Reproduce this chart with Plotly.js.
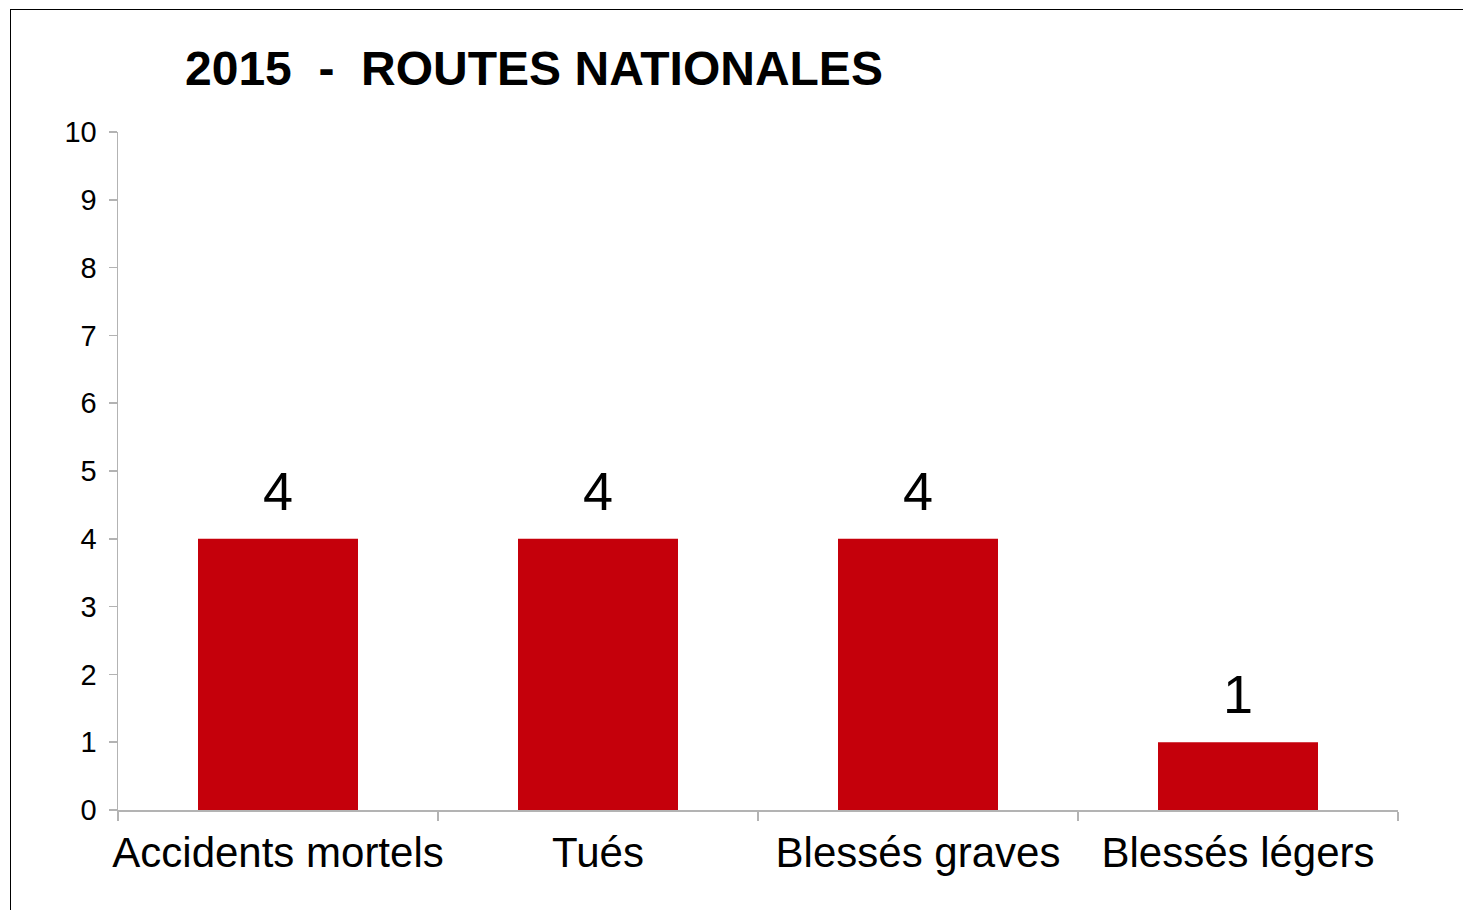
<!DOCTYPE html>
<html>
<head>
<meta charset="utf-8">
<script src="https://cdn.plot.ly/plotly-3.0.1.min.js"></script>
<style>
html,body{margin:0;padding:0;background:#fff;overflow:hidden;}
#chart{position:absolute;left:0;top:0;width:1463px;height:910px;}
#frame{position:absolute;left:10px;top:9px;width:1600px;height:1100px;border:1.5px solid #000;pointer-events:none;}
</style>
</head>
<body>
<div id="chart"></div>
<div id="frame"></div>
<script>
const categories = ["Accidents mortels", "Tués", "Blessés graves", "Blessés légers"];
const values = [4, 4, 4, 1];
const titleText = "2015\u00a0\u00a0-\u00a0\u00a0ROUTES NATIONALES";

const FONT = "Liberation Sans, Arial, sans-serif";

const trace = {
  type: "bar",
  x: categories,
  y: values,
  width: 0.5,
  marker: {color: "#c5000b"},
  hoverinfo: "none"
};

const annotations = categories.map((c, i) => ({
  x: c, y: values[i], xref: "x", yref: "y",
  text: String(values[i]),
  showarrow: false,
  yanchor: "bottom",
  yshift: 16,
  font: {family: FONT, size: 54, color: "#000"}
}));

const layout = {
  width: 1463, height: 910,
  margin: {l: 118, r: 65, t: 132, b: 100},
  paper_bgcolor: "#fff", plot_bgcolor: "#fff",
  font: {family: FONT, color: "#000"},
  title: {
    text: "<b>" + titleText + "</b>",
    font: {size: 48, color: "#000", family: FONT},
    xref: "container", x: 185/1463, xanchor: "left",
    yref: "container", y: 1 - 68/910, yanchor: "middle"
  },
  showlegend: false,
  annotations: annotations,
  xaxis: {
    type: "category",
    showline: true, linecolor: "#b3b3b3", linewidth: 1.5,
    ticks: "outside", tickson: "boundaries", ticklen: 9, tickcolor: "#b3b3b3", tickwidth: 1.5,
    tickangle: 0,
    ticklabelstandoff: 5,
    tickfont: {size: 42, color: "#000", family: FONT},
    showgrid: false, zeroline: false
  },
  yaxis: {
    range: [0, 10], dtick: 1, tick0: 0,
    showline: true, linecolor: "#b3b3b3", linewidth: 1.5,
    ticks: "outside", ticklen: 8, tickcolor: "#b3b3b3", tickwidth: 1.5,
    ticklabelstandoff: 6,
    tickfont: {size: 29, color: "#000", family: FONT},
    showgrid: false, zeroline: false
  }
};

Plotly.newPlot("chart", [trace], layout, {displayModeBar: false, staticPlot: true});
</script>
</body>
</html>
